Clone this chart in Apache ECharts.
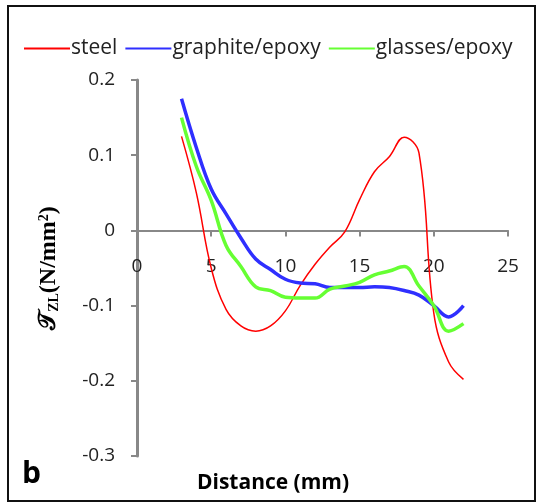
<!DOCTYPE html>
<html style="height: 100%">
<head>
 <meta charset="utf-8">
 <title>ECharts</title>
 <script src="https://cdn.jsdelivr.net/npm/echarts/dist/echarts.min.js"></script>
</head>
<body style="height: 100%; margin: 0; background: #fff">
 <div id="main" style="width: 548px; height: 504px"></div>
 <script type="text/javascript">
 // distance (mm)
 var distance = [3, 4, 5, 6, 7, 8, 9, 10, 11, 12, 13, 14, 15, 16, 17, 18, 19, 20, 21, 22];
 // shear stress values per material
 var steel = [0.125, 0.05, -0.05, -0.105, -0.127, -0.134, -0.127, -0.107, -0.073, -0.045,
 -0.022, -0.002, 0.041, 0.078, 0.098, 0.124, 0.103, -0.11, -0.175, -0.198];
 var graphite = [0.175, 0.11, 0.055, 0.022, -0.01, -0.038, -0.052, -0.065, -0.07, -0.071,
 -0.076, -0.076, -0.076, -0.075, -0.076, -0.08, -0.086, -0.1, -0.115, -0.1];
 var glasses = [0.15, 0.085, 0.04, -0.02, -0.048, -0.075, -0.08, -0.089, -0.09, -0.09,
 -0.078, -0.074, -0.069, -0.059, -0.054, -0.048, -0.074, -0.1, -0.134, -0.124];
 var seriesNames = ['steel', 'graphite/epoxy', 'glasses/epoxy'];

 function pairs(ys) {
 return distance.map(function (x, i) { return [x, ys[i]]; });
 }

 var myChart = echarts.init(document.getElementById('main'));
 var font = '"Open Sans", Lato, sans-serif';
 var serif = '"Liberation Serif", "DejaVu Serif", serif';

 var option = {
 animation: false,
 backgroundColor: '#fff',
 graphic: [{
 type: 'rect',
 shape: { x: 8, y: 6, width: 527, height: 495 },
 style: { fill: 'none', stroke: '#111', lineWidth: 2 },
 silent: true
 }],
 title: [{
 text: 'Distance (mm)',
 left: 268, top: 468,
 textAlign: 'center',
 textStyle: { fontFamily: font, fontSize: 21, fontWeight: 'bold', color: '#000' }
 }, {
 text: 'b',
 left: 17, top: 454,
 textStyle: { fontFamily: font, fontSize: 30, fontWeight: 'bold', color: '#000' }
 }],
 legend: {
 data: seriesNames,
 left: 18, top: 33,
 itemWidth: 46, itemHeight: 12,
 itemGap: 7,
 itemStyle: { opacity: 0 },
 textStyle: { fontFamily: font, fontSize: 21, color: '#222', padding: [0, 0, 0, -4] }
 },
 grid: { left: 137, right: 40, top: 80, bottom: 48 },
 xAxis: {
 type: 'value',
 min: 0, max: 25, interval: 5,
 offset: -225.6,
 axisLine: { onZero: false, lineStyle: { color: '#888', width: 2 } },
 axisTick: { show: true, length: 6, lineStyle: { color: '#888', width: 2 } },
 axisLabel: { margin: 27, fontFamily: font, fontSize: 19, color: '#222' },
 splitLine: { show: false }
 },
 yAxis: {
 type: 'value',
 min: -0.3, max: 0.2, interval: 0.1,
 name: '{t|𝒯}{s|ZL}{n|(N/mm}{p|2}{n|)}',
 nameLocation: 'middle',
 nameGap: 76,
 nameTextStyle: {
 fontFamily: serif, fontSize: 24, fontWeight: 'bold', color: '#000',
 rich: {
 t: { fontFamily: '"DejaVu Serif", serif', fontSize: 24, fontWeight: 'bold', color: '#000' },
 s: { fontFamily: serif, fontSize: 14, fontWeight: 'bold', color: '#000', padding: [10, 0, 0, 0] },
 n: { fontFamily: serif, fontSize: 24, fontWeight: 'bold', color: '#000' },
 p: { fontFamily: serif, fontSize: 14, fontWeight: 'bold', color: '#000', padding: [0, 0, 10, 0] }
 }
 },
 axisLine: { show: true, onZero: false, lineStyle: { color: '#888', width: 3 } },
 axisTick: { show: true, length: 6, lineStyle: { color: '#888', width: 2 } },
 axisLabel: {
 margin: 22, fontFamily: font, fontSize: 19, color: '#222',
 formatter: function (v) { return String(Math.round(v * 10) / 10); }
 },
 splitLine: { show: false }
 },
 series: [{
 name: seriesNames[0], type: 'line', data: pairs(steel),
 smooth: 0.4, symbol: 'none',
 itemStyle: { color: '#ff0000' },
 lineStyle: { color: '#ff0000', width: 1.5 }
 }, {
 name: seriesNames[1], type: 'line', data: pairs(graphite),
 smooth: 0.4, symbol: 'none',
 itemStyle: { color: '#2f2fff' },
 lineStyle: { color: '#2f2fff', width: 3.5 }
 }, {
 name: seriesNames[2], type: 'line', data: pairs(glasses),
 smooth: 0.4, symbol: 'none',
 itemStyle: { color: '#66ff33' },
 lineStyle: { color: '#66ff33', width: 3.5 }
 }]
 };

 myChart.setOption(option);
 </script>
</body>
</html>
